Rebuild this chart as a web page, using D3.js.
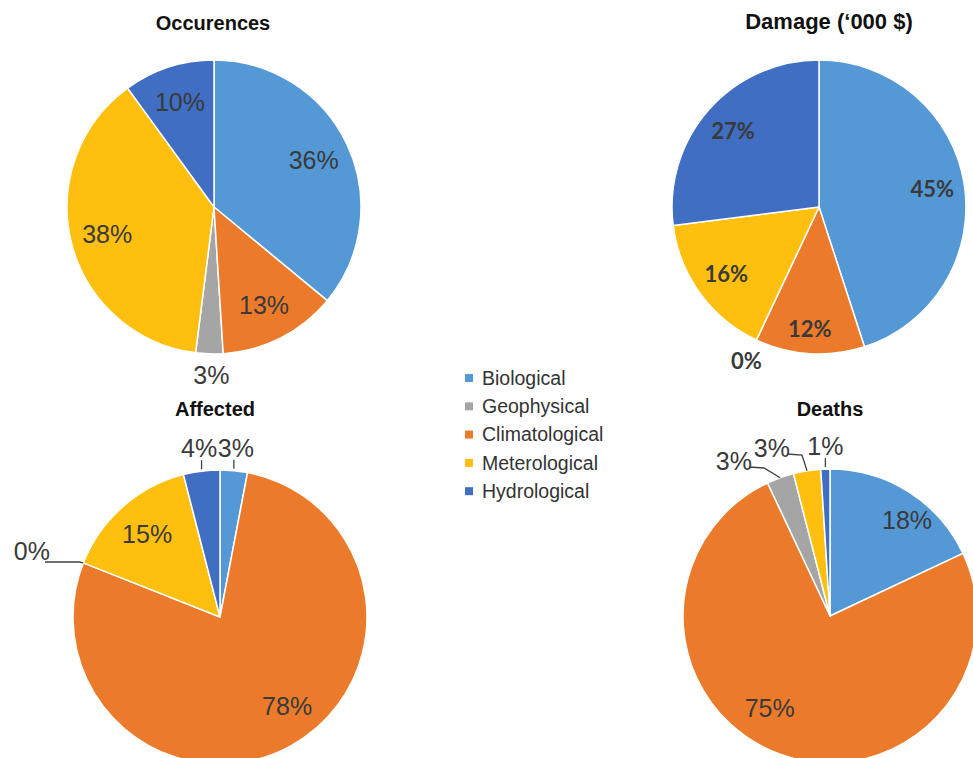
<!DOCTYPE html>
<html>
<head>
<meta charset="utf-8">
<script src="https://cdn.jsdelivr.net/npm/d3@7"></script>
<style>
  html, body { margin: 0; padding: 0; background: #fff; }
  svg { display: block; }
</style>
</head>
<body>
<svg id="chart" width="973" height="758"></svg>
<script>
// ---- Data ----
const categories = ["Biological", "Geophysical", "Climatological", "Meterological", "Hydrological"];
// drawing order of slices (clockwise from 12 o'clock)
const sliceOrder = ["Biological", "Climatological", "Geophysical", "Meterological", "Hydrological"];
const occurrences = [36, 3, 13, 38, 10];
const damage      = [45, 0, 12, 16, 27];
const affected    = [3, 0, 78, 15, 4];
const deaths      = [18, 3, 75, 3, 1];
const titles = ["Occurences", "Damage (\u2018000 $)", "Affected", "Deaths"];

// ---- Styling / layout ----
const colors = ["#5499d6", "#a5a5a5", "#ec7a2b", "#ffbf0f", "#3f6ec2"];
const color = d3.scaleOrdinal().domain(categories).range(colors);

const svg = d3.select("#chart");

const thinFont = "'Liberation Sans', Arial, Helvetica, sans-serif";
const boldLabelFont = "Lato, 'Liberation Sans', sans-serif";

const charts = [
  { values: occurrences, title: titles[0], cx: 214, cy: 207, r: 147, titleX: 213, titleY: 30, titleSize: 20,
    font: thinFont, size: 25, weight: 400, lr: 0.75,
    nudge: {},
    outside: { "Geophysical": { type: "plain", dx: 2, dy: 30, anchor: "middle" } } },
  { values: damage, title: titles[1], cx: 819, cy: 207, r: 147, titleX: 829, titleY: 29, titleSize: 22,
    font: boldLabelFont, size: 22, weight: 700, lr: 0.78,
    nudge: { "Climatological": [-2, 8] },
    outside: { "Geophysical": { type: "plain", dx: -10, dy: 29, anchor: "middle" } } },
  { values: affected, title: titles[2], cx: 220, cy: 617, r: 147, titleX: 215, titleY: 416, titleSize: 20,
    font: thinFont, size: 25, weight: 400, lr: 0.75,
    nudge: { "Climatological": [14, -7] },
    outside: {
      "Geophysical": { type: "leftLeader", lx: 50, ly: 560 },
      "Hydrological": { type: "tick", shift: -2.5 },
      "Biological": { type: "tick", shift: 2 } } },
  { values: deaths, title: titles[3], cx: 830, cy: 616, r: 147, titleX: 830, titleY: 416, titleSize: 20,
    font: thinFont, size: 25, weight: 400, lr: 0.75,
    nudge: { "Biological": [18, -3], "Climatological": [-23, -11] },
    outside: {
      "Geophysical": { type: "elbow", lx: 752, ly: 470 },
      "Meterological": { type: "elbow", lx: 790, ly: 457 },
      "Hydrological": { type: "tick", shift: 0 } } }
];

const pie = d3.pie()
  .sort((a, b) => sliceOrder.indexOf(a.cat) - sliceOrder.indexOf(b.cat))
  .value(d => d.v);

charts.forEach(c => {
  const data = categories.map((cat, i) => ({ cat, v: c.values[i] }));
  const arcs = pie(data);
  const arc = d3.arc().innerRadius(0).outerRadius(c.r);
  const g = svg.append("g").attr("transform", `translate(${c.cx},${c.cy})`);

  g.selectAll("path.slice").data(arcs).enter().append("path")
    .attr("class", "slice")
    .attr("d", arc)
    .attr("fill", d => color(d.data.cat))
    .attr("stroke", "#fff")
    .attr("stroke-width", 1.5)
    .attr("stroke-linejoin", "round");

  // title
  svg.append("text")
    .attr("x", c.titleX).attr("y", c.titleY)
    .attr("text-anchor", "middle")
    .attr("font-family", "'Liberation Sans', Arial, sans-serif")
    .attr("font-weight", 700)
    .attr("font-size", c.titleSize)
    .attr("fill", "#111")
    .text(c.title);

  arcs.forEach(a => {
    const cat = a.data.cat;
    const label = Math.round(a.data.v) + "%";
    const mid = (a.startAngle + a.endAngle) / 2;
    const ex = c.r * Math.sin(mid), ey = -c.r * Math.cos(mid);
    const o = c.outside[cat];
    const txt = (x, y, anchor, baseline) => g.append("text")
      .attr("x", x).attr("y", y)
      .attr("text-anchor", anchor)
      .attr("dy", baseline ? null : "0.35em")
      .attr("font-family", c.font)
      .attr("font-weight", c.weight)
      .attr("font-size", c.size)
      .attr("fill", "#3a3a3a")
      .text(label);
    const lineStyle = sel => sel.attr("fill", "none").attr("stroke", "#404040").attr("stroke-width", 1.3);
    if (!o) {
      const lr = c.r * c.lr;
      const n = c.nudge[cat] || [0, 0];
      txt(lr * Math.sin(mid) + n[0], -lr * Math.cos(mid) + n[1], "middle", false);
    } else if (o.type === "plain") {
      txt(ex + o.dx, ey + o.dy, o.anchor, true);
    } else if (o.type === "tick") {
      txt(ex + o.shift, ey - 14, "middle", true);
      lineStyle(g.append("path").attr("d", `M${ex},${ey - 11}L${ex},${ey - 2}`));
    } else if (o.type === "leftLeader") {
      const lx = o.lx - c.cx, ly = o.ly - c.cy;
      txt(lx, ly, "end", true);
      lineStyle(g.append("path").attr("d", `M${lx - 5},${ly + 2}L${ex - 4},${ly + 2}L${ex},${ey}`));
    } else if (o.type === "elbow") {
      const lx = o.lx - c.cx, ly = o.ly - c.cy;
      txt(lx, ly, "end", true);
      lineStyle(g.append("path").attr("d", `M${lx - 3},${ly - 3}L${lx + 12},${ly - 2}L${ex},${ey}`));
    }
  });
});

// legend
const legend = svg.append("g").attr("transform", "translate(465,378)");
categories.forEach((cat, i) => {
  const row = legend.append("g").attr("transform", `translate(0,${i * 28.3})`);
  row.append("rect").attr("x", 0).attr("y", -4).attr("width", 8).attr("height", 8).attr("fill", color(cat));
  row.append("text")
    .attr("x", 17).attr("y", 0).attr("dy", "0.35em")
    .attr("font-family", "'Liberation Sans', Arial, sans-serif")
    .attr("font-size", 19.5)
    .attr("fill", "#333")
    .text(cat);
});
</script>
</body>
</html>
